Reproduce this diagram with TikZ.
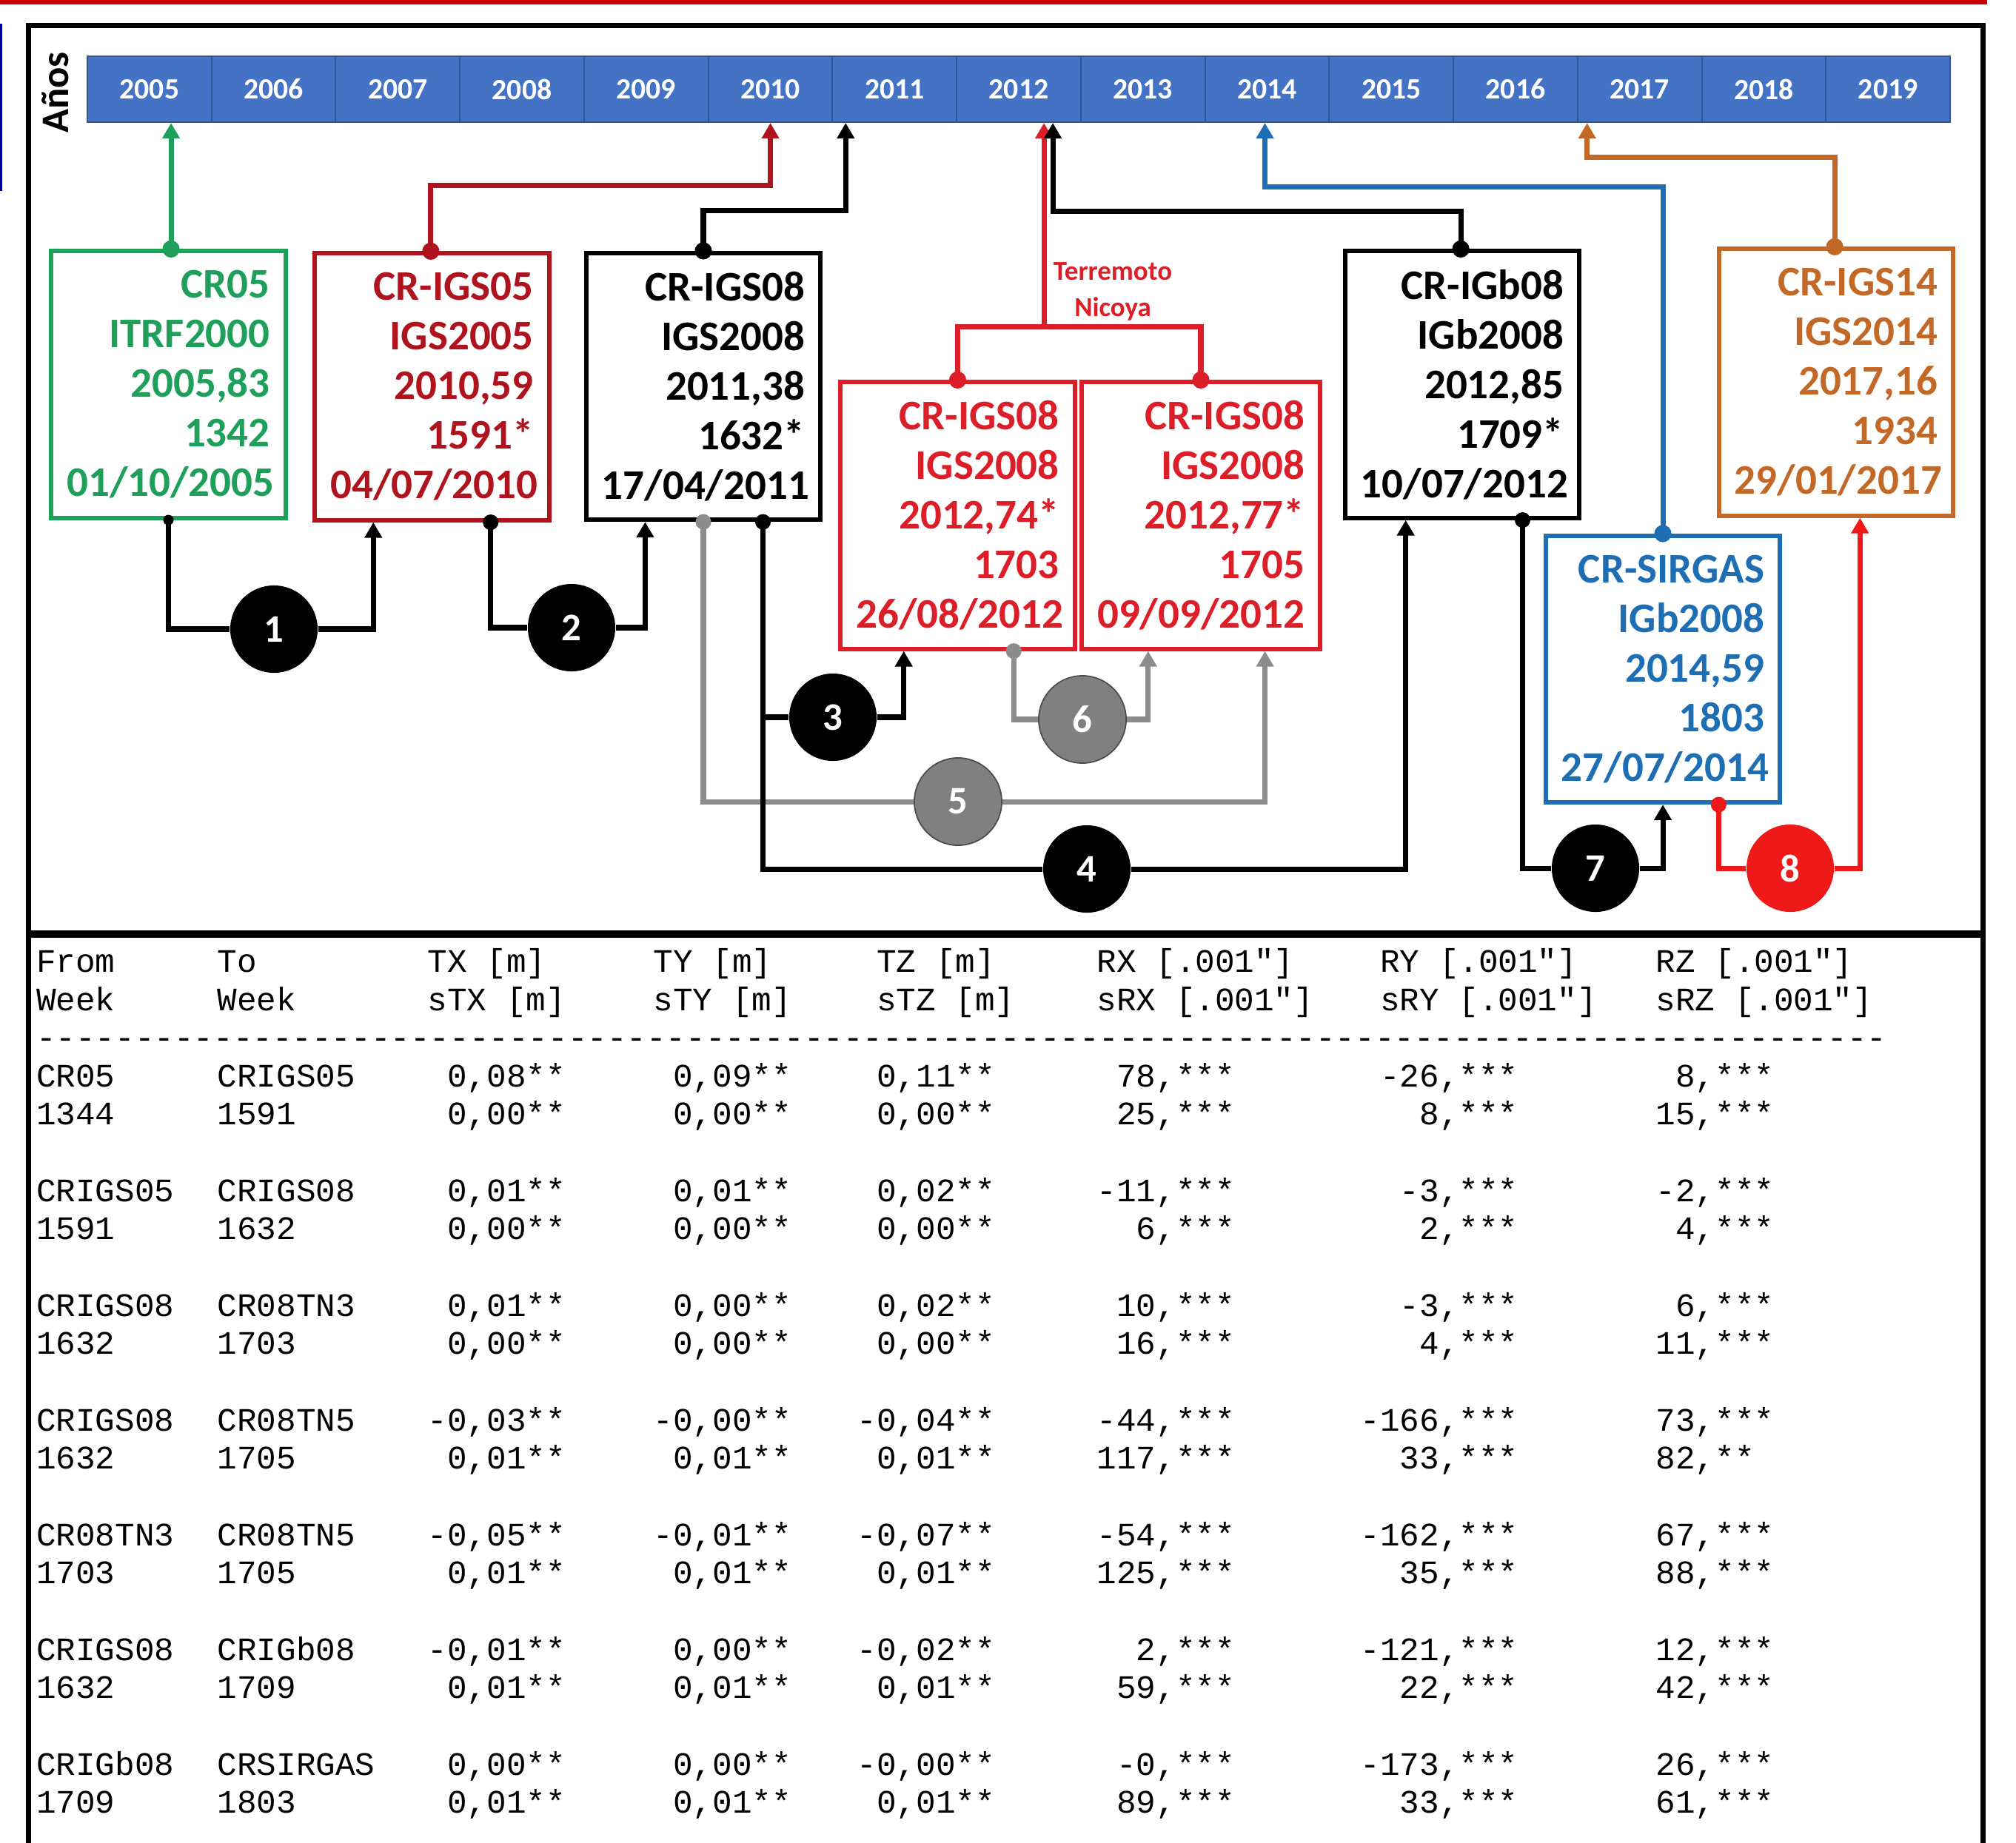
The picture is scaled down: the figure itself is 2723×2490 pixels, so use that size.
\documentclass[tikz,border=0pt]{standalone}
\usepackage{fontspec}
\setmainfont{Carlito}
\setmonofont{Liberation Mono}
\usetikzlibrary{arrows.meta,calc}
\definecolor{cgreen}{RGB}{30,160,90}
\definecolor{cdred}{RGB}{175,20,30}
\definecolor{cred}{RGB}{220,30,40}
\definecolor{cblue}{RGB}{30,110,180}
\definecolor{corange}{RGB}{195,105,40}
\definecolor{cbar}{RGB}{68,114,196}
\definecolor{cbarline}{RGB}{47,85,151}
\definecolor{cgray}{RGB}{140,140,140}
\definecolor{ccirc}{RGB}{128,128,128}
\definecolor{cred8}{RGB}{240,25,25}
\definecolor{ctopred}{RGB}{200,0,0}
\definecolor{cleftblue}{RGB}{0,0,160}
\newcommand\trow[9]{%
 \node[tt] (r#1c1) at (48.5,#1) {#2};
 \node[tt] (r#1c2) at (293,#1) {#3};
 \node[tt] (r#1c3) at (577,#1) {#4};
 \node[tt] (r#1c4) at (882,#1) {#5};
 \node[tt] (r#1c5) at (1157,#1) {#6};
 \node[tt] (r#1c6) at (1481,#1) {#7};
 \node[tt] (r#1c7) at (1837,#1) {#8};
 \node[tt] (r#1c8) at (2236,#1) {#9};}
\begin{document}
\begin{tikzpicture}[x=0.01cm,y=-0.01cm,
  box/.style={draw, line width=1.7pt, minimum width=3.16cm, minimum height=3.6cm, text width=2.74cm, inner xsep=0.21cm, inner ysep=0pt, align=right, font=\bfseries\fontsize{16.2}{19.06}\selectfont},
  num/.style={circle, minimum size=1.18cm, inner sep=0pt, text=white, font=\bfseries\fontsize{15}{15}\selectfont},
  con/.style={line width=2pt},
  arr/.style={con, -{Triangle[width=6.5pt,length=6pt]}},
  tt/.style={anchor=base west, inner sep=0pt, font=\ttfamily\fontsize{12.6}{14.7}\selectfont},
  yr/.style={draw=cbarline, line width=0.6pt, fill=cbar, minimum width=1.6774cm, minimum height=0.89cm, inner sep=0pt, text=white, font=\bfseries\fontsize{11.3}{12}\selectfont},
]
\useasboundingbox (0,0) rectangle (2723,2490);
\fill[white] (0,0) rectangle (2723,2490);
% outer decorations
\draw[ctopred, line width=1.7pt] (0,3) -- (2684,3);
\draw[cleftblue, line width=0.8pt] (1.4,32) -- (1.4,258);
\draw[line width=2pt] (38.5,2500) -- (38.5,34.5) -- (2678,34.5) -- (2678,2500);
\draw[line width=2.85pt] (38.5,1262) -- (2678,1262);
% year bar
\foreach \i in {0,...,14}{\pgfmathtruncatemacro\yy{2005+\i}\node[yr] (y\yy) at ({118+167.74*(\i+0.5)},120.5) {\yy};}
\node[rotate=90, inner sep=0pt, font=\bfseries\fontsize{15}{15}\selectfont] (anos) at (75,125) {Años};
% boxes
\node[box, draw=cgreen, text=cgreen] (B1) at (227.5,519.5) {CR05\\ITRF2000\\2005,83\\1342\\01/10/2005};
\node[box, draw=cdred, text=cdred] (B2) at (583.5,522.5) {CR-IGS05\\IGS2005\\2010,59\\1591*\\04/07/2010};
\node[box, draw=black, text=black] (B3) at (950,522) {CR-IGS08\\IGS2008\\2011,38\\1632*\\17/04/2011};
\node[box, draw=cred, text=cred] (B4a) at (1293.5,696.5) {CR-IGS08\\IGS2008\\2012,74*\\1703\\26/08/2012};
\node[box, draw=cred, text=cred, minimum width=3.22cm, text width=2.80cm] (B4b) at (1622,696.5) {CR-IGS08\\IGS2008\\2012,77*\\1705\\09/09/2012};
\node[box, draw=black, text=black] (B5) at (1975,519.5) {CR-IGb08\\IGb2008\\2012,85\\1709*\\10/07/2012};
\node[box, draw=cblue, text=cblue] (B6) at (2246,904) {CR-SIRGAS\\IGb2008\\2014,59\\1803\\27/07/2014};
\node[box, draw=corange, text=corange] (B7) at (2480,516.5) {CR-IGS14\\IGS2014\\2017,16\\1934\\29/01/2017};
\node[text=cred, align=center, inner sep=0pt, font=\bfseries\fontsize{10.5}{13.9}\selectfont] (terr) at (1503,394) {Terremoto\\Nicoya};
% numbered circles
\node[num, fill=black] (c1) at (370,850) {1};
\node[num, fill=black] (c2) at (772,848) {2};
\node[num, fill=black] (c3) at (1125,969) {3};
\node[num, fill=black] (c4) at (1468,1174) {4};
\node[num, fill=ccirc, draw=black!70, line width=0.5pt] (c5) at (1294,1083) {5};
\node[num, fill=ccirc, draw=black!70, line width=0.5pt] (c6) at (1462,972) {6};
\node[num, fill=black] (c7) at (2155,1173) {7};
\node[num, fill=cred8] (c8) at (2418,1173) {8};
% attachment points
\coordinate (B1t) at ($(B1.north west)!0.511!(B1.north east)$);
\coordinate (B2t) at ($(B2.north west)!0.495!(B2.north east)$);
\coordinate (B5t) at ($(B5.north west)!0.494!(B5.north east)$);
\coordinate (B7t) at ($(B7.north west)!0.494!(B7.north east)$);
\coordinate (B2i) at ($(B2.south west)!0.254!(B2.south east)$);
\coordinate (B2b) at ($(B2.south west)!0.746!(B2.south east)$);
\coordinate (B3i) at ($(B3.south west)!0.256!(B3.south east)$);
\coordinate (B3b) at ($(B3.south west)!0.75!(B3.south east)$);
\coordinate (B4ai) at ($(B4a.south west)!0.274!(B4a.south east)$);
\coordinate (B4ab) at ($(B4a.south west)!0.735!(B4a.south east)$);
\coordinate (B4bi) at ($(B4b.south west)!0.283!(B4b.south east)$);
\coordinate (B4bj) at ($(B4b.south west)!0.764!(B4b.south east)$);
\coordinate (B5i) at ($(B5.south west)!0.263!(B5.south east)$);
\coordinate (B5b) at ($(B5.south west)!0.753!(B5.south east)$);
\coordinate (B6b) at ($(B6.south west)!0.734!(B6.south east)$);
\coordinate (B7i) at ($(B7.south west)!0.60!(B7.south east)$);
% top connectors to the year bar
\draw[arr, cgreen] (B1t) -- (B1t |- y2005.south);
\draw[arr, cdred] (B2t) -- ++(0,-89) -| (y2010.south);
\draw[arr] (B3.north) -- ++(0,-54) -| ([xshift=-0.66cm]y2011.south);
\draw[con, cred] (B4a.north) -- ++(0,-72) -| (B4b.north);
\draw[arr, cred] ([xshift=0.34cm]y2012.south) ++(0,279) -- ([xshift=0.34cm]y2012.south);
\draw[arr] (B5t) -- ++(0,-51) -| ([xshift=0.46cm]y2012.south);
\draw[arr, cblue] (B6.north) -- ++(0,-468) -| ([xshift=-0.03cm]y2014.south);
\draw[arr, corange] (B7t) -- ++(0,-121) -| ([xshift=-0.71cm]y2017.south);
% bottom connectors
\draw[con, cgray] (B3.south) |- (c5.west);
\draw[arr, cgray] (c5.east) -| (B4bj);
\draw[con, cgray] (B4ab) |- (c6.west);
\draw[arr, cgray] (c6.east) -| (B4bi);
\draw[con] (B1.south) |- (c1.west);
\draw[arr] (c1.east) -| (B2i);
\draw[con] (B2b) |- (c2.west);
\draw[arr] (c2.east) -| (B3i);
\draw[con] (B3b) |- (c4.west);
\draw[con] (B3b |- c3.west) -- (c3.west);
\draw[arr] (c3.east) -| (B4ai);
\draw[arr] (c4.east) -| (B5i);
\draw[con] (B5b) |- (c7.west);
\draw[arr] (c7.east) -| (B6.south);
\draw[con, cred8] (B6b) |- (c8.west);
\draw[arr, cred8] (c8.east) -| (B7i);
% dots
\fill[cgreen] (B1t) circle (3.3pt);
\fill[cdred] (B2t) circle (3.3pt);
\fill (B3.north) circle (3.3pt);
\fill[cred] (B4a.north) circle (3.3pt);
\fill[cred] (B4b.north) circle (3.3pt);
\fill (B5t) circle (3.3pt);
\fill[cblue] (B6.north) circle (3.3pt);
\fill[corange] (B7t) circle (3.3pt);
\fill (B1.south) circle (2pt);
\fill (B2b) circle (3pt);
\fill[cgray] (B3.south) circle (3pt);
\fill (B3b) circle (3pt);
\fill[cgray] (B4ab) circle (3pt);
\fill (B5b) circle (3pt);
\fill[cred8] (B6b) circle (3pt);
% table
\trow{1313}{From}{To}{TX [m]}{TY [m]}{~TZ [m]}{RX [.001"]}{~RY [.001"]}{RZ [.001"]}
\trow{1365}{Week}{Week}{sTX [m]}{sTY [m]}{~sTZ [m]}{sRX [.001"]}{~sRY [.001"]}{sRZ [.001"]}
\node[tt] (dash) at (48.5,1416) {----------------------------------------------------------------------------------------------};
\trow{1468}{CR05}{CRIGS05}{~0,08**}{~0,09**}{~0,11**}{~78,***}{~-26,***}{~8,***}
\trow{1519}{1344}{1591}{~0,00**}{~0,00**}{~0,00**}{~25,***}{~~~8,***}{15,***}
\trow{1623}{CRIGS05}{CRIGS08}{~0,01**}{~0,01**}{~0,02**}{-11,***}{~~-3,***}{-2,***}
\trow{1674}{1591}{1632}{~0,00**}{~0,00**}{~0,00**}{~~6,***}{~~~2,***}{~4,***}
\trow{1778}{CRIGS08}{CR08TN3}{~0,01**}{~0,00**}{~0,02**}{~10,***}{~~-3,***}{~6,***}
\trow{1829}{1632}{1703}{~0,00**}{~0,00**}{~0,00**}{~16,***}{~~~4,***}{11,***}
\trow{1933}{CRIGS08}{CR08TN5}{-0,03**}{-0,00**}{-0,04**}{-44,***}{-166,***}{73,***}
\trow{1984}{1632}{1705}{~0,01**}{~0,01**}{~0,01**}{117,***}{~~33,***}{82,**}
\trow{2088}{CR08TN3}{CR08TN5}{-0,05**}{-0,01**}{-0,07**}{-54,***}{-162,***}{67,***}
\trow{2139}{1703}{1705}{~0,01**}{~0,01**}{~0,01**}{125,***}{~~35,***}{88,***}
\trow{2243}{CRIGS08}{CRIGb08}{-0,01**}{~0,00**}{-0,02**}{~~2,***}{-121,***}{12,***}
\trow{2294}{1632}{1709}{~0,01**}{~0,01**}{~0,01**}{~59,***}{~~22,***}{42,***}
\trow{2398}{CRIGb08}{CRSIRGAS}{~0,00**}{~0,00**}{-0,00**}{~-0,***}{-173,***}{26,***}
\trow{2449}{1709}{1803}{~0,01**}{~0,01**}{~0,01**}{~89,***}{~~33,***}{61,***}
\end{tikzpicture}
\end{document}
